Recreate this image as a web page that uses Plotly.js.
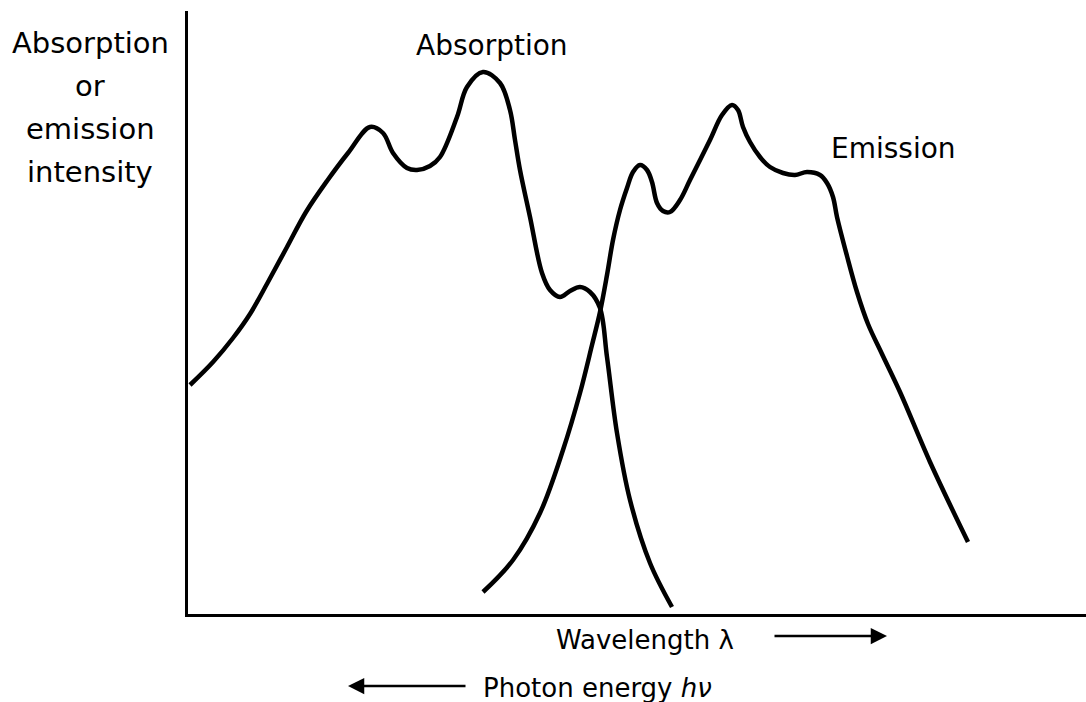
<!DOCTYPE html>
<html>
<head>
<meta charset="utf-8">
<script src="https://cdn.plot.ly/plotly-3.0.1.min.js"></script>
<style>
  html, body { margin: 0; padding: 0; background: #ffffff; }
  #chart { width: 1086px; height: 702px; }
</style>
</head>
<body>
<div id="chart"></div>
<script>
// Arbitrary units (x: wavelength, y: intensity)
const absorptionX = [2, 25, 45, 62, 80, 99, 118, 139, 160, 182, 195, 205, 219, 229, 242, 252, 269, 279, 295, 312, 322, 327, 332, 342, 354, 362, 372, 382, 392, 402, 412, 419, 429, 442, 462, 484];
const absorptionY = [229, 252, 276, 300, 332, 367, 402, 433, 461, 487, 481, 461, 446, 444, 448, 457, 497, 527, 542, 531, 504, 474, 444, 397, 341, 324, 317, 323, 327, 322, 306, 257, 181, 114, 51, 7];

const emissionX = [295, 325, 352, 375, 392, 404, 412, 419, 425, 432, 439, 445, 452, 459, 464, 469, 475, 482, 492, 502, 522, 534, 544, 550, 555, 562, 572, 582, 595, 607, 619, 632, 639, 645, 649, 659, 669, 680, 694, 712, 742, 780];
const emissionY = [22, 54, 101, 164, 221, 269, 302, 339, 374, 404, 426, 442, 449, 444, 432, 411, 403, 402, 414, 434, 474, 499, 509, 504, 487, 472, 457, 447, 441, 439, 442, 439, 431, 417, 397, 358, 322, 290, 260, 222, 152, 72];

const curveLabels = [
  {text: 'Absorption', x: 304, y: 569},
  {text: 'Emission', x: 705, y: 466}
];
const yLabelLines = ['Absorption', 'or', 'emission', 'intensity'];
const xLabelTop = 'Wavelength λ';
const xLabelBottom = 'Photon energy <i>hν</i>';

const FONT = 'DejaVu Sans, Liberation Sans, sans-serif';
const L = 188, T = 11, W = 898, H = 603;
const px = v => (v - L) / W;          // pixel x -> paper x
const py = v => (T + H - v) / H;      // pixel y -> paper y

const traces = [
  {x: absorptionX, y: absorptionY, mode: 'lines', name: 'Absorption',
   line: {color: '#000', width: 4.5, shape: 'spline', smoothing: 1.0}, hoverinfo: 'skip'},
  {x: emissionX, y: emissionY, mode: 'lines', name: 'Emission',
   line: {color: '#000', width: 4.5, shape: 'spline', smoothing: 1.0}, hoverinfo: 'skip'}
];

const annotations = [];
curveLabels.forEach(c => annotations.push({
  text: c.text, x: c.x, y: c.y, xref: 'x', yref: 'y', showarrow: false,
  xanchor: 'center', yanchor: 'middle', font: {family: FONT, size: 28, color: '#000'}
}));
const yLineCenters = [43, 86, 129, 172];
yLabelLines.forEach((t, i) => annotations.push({
  text: t, xref: 'paper', yref: 'paper', x: px(90), y: py(yLineCenters[i]),
  showarrow: false, xanchor: 'center', yanchor: 'middle',
  font: {family: FONT, size: 29, color: '#000'}
}));
annotations.push({
  text: xLabelTop, xref: 'paper', yref: 'paper', x: px(645), y: py(640),
  showarrow: false, xanchor: 'center', yanchor: 'middle',
  font: {family: FONT, size: 26, color: '#000'}
});
annotations.push({
  text: xLabelBottom, xref: 'paper', yref: 'paper', x: px(597), y: py(688),
  showarrow: false, xanchor: 'center', yanchor: 'middle',
  font: {family: FONT, size: 26, color: '#000'}
});
// direction arrows
annotations.push({
  text: '', xref: 'paper', yref: 'paper', x: px(887), y: py(636),
  ax: -114, ay: 0, showarrow: true, arrowhead: 2, arrowsize: 1.3, arrowwidth: 2.5, arrowcolor: '#000'
});
annotations.push({
  text: '', xref: 'paper', yref: 'paper', x: px(348), y: py(686),
  ax: 119, ay: 0, showarrow: true, arrowhead: 2, arrowsize: 1.3, arrowwidth: 2.5, arrowcolor: '#000'
});

const layout = {
  width: 1086, height: 702,
  margin: {l: L, r: 0, t: T, b: 702 - T - H, pad: 0},
  paper_bgcolor: '#fff', plot_bgcolor: '#fff',
  showlegend: false,
  xaxis: {range: [0, W], showline: true, linecolor: '#000', linewidth: 3,
          showgrid: false, zeroline: false, showticklabels: false, ticks: '', fixedrange: true},
  yaxis: {range: [0, H], showline: true, linecolor: '#000', linewidth: 3,
          showgrid: false, zeroline: false, showticklabels: false, ticks: '', fixedrange: true},
  annotations: annotations
};

Plotly.newPlot('chart', traces, layout, {displayModeBar: false, staticPlot: true});
</script>
</body>
</html>
